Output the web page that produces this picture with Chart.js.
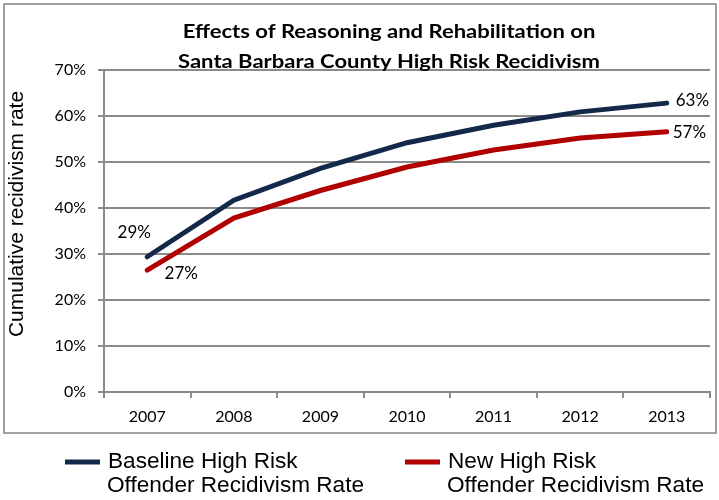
<!DOCTYPE html>
<html>
<head>
<meta charset="utf-8">
<script src="https://cdn.jsdelivr.net/npm/chart.js@4.4.0/dist/chart.umd.min.js"></script>
<style>html,body{margin:0;padding:0;background:#fff}</style>
</head>
<body>
<canvas id="grafico" width="719" height="500"></canvas>
<script>
// datos
var years = ["2007", "2008", "2009", "2010", "2011", "2012", "2013"];
var baseline = [29.4, 41.7, 48.6, 54.2, 58.0, 60.9, 62.8];
var newRisk = [26.5, 37.8, 43.8, 48.9, 52.6, 55.2, 56.6];
var seriesNames = [["Baseline High Risk", "Offender Recidivism Rate"], ["New High Risk", "Offender Recidivism Rate"]];
var yTicks = [0, 10, 20, 30, 40, 50, 60, 70];
var titleLines = ["Effects of Reasoning and Rehabilitation on", "Santa Barbara County High Risk Recidivism"];
var yTitle = "Cumulative recidivism rate";

var blue = "#14294a";
var red = "#b00000";
var grey = "#8a8a8a";

// texto comprimido/estirado para imitar fuentes que no hay
function fitText(c, txt, x, y, w, align) {
  var m = c.measureText(txt).width;
  var k = w / m;
  c.save();
  c.translate(x, y);
  c.scale(k, 1);
  c.textAlign = align;
  c.fillText(txt, 0, 0);
  c.restore();
  return k;
}

// fondo, borde, titulo, etiquetas y leyenda
var extras = {
  id: "extras",
  beforeDraw: function (chart) {
    var c = chart.ctx;
    c.save();
    c.fillStyle = "#fff";
    c.fillRect(0, 0, chart.width, chart.height);
    c.strokeStyle = "#a0a0a0";
    c.lineWidth = 2;
    c.strokeRect(4, 4, 712, 429);
    c.restore();
  },
  afterDraw: function (chart) {
    var c = chart.ctx;
    c.save();
    // titulo
    c.fillStyle = "#000";
    c.font = "bold 19px Lato";
    c.textBaseline = "alphabetic";
    var k = 422 / c.measureText(titleLines[1]).width;
    [38, 68].forEach(function (y, i) {
      c.save();
      c.translate(389, y);
      c.scale(k, 1);
      c.textAlign = "center";
      c.fillText(titleLines[i], 0, 0);
      c.restore();
    });

    // titulo eje y
    c.save();
    c.translate(17, 214);
    c.rotate(-Math.PI / 2);
    c.font = "21px 'Liberation Sans'";
    c.textAlign = "center";
    c.textBaseline = "middle";
    c.fillText(yTitle, 0, 0);
    c.restore();

    // etiquetas de los puntos inicial y final
    c.font = "17px Lato";
    c.textBaseline = "middle";
    var offs = [[[-13, -24, "center"], [9, -3, "left"]], [[34, 3, "center"], [6, 1, "left"]]];
    chart.data.datasets.forEach(function (ds, i) {
      var pts = chart.getDatasetMeta(i).data;
      [0, pts.length - 1].forEach(function (n, j) {
        var o = offs[i][j];
        c.textAlign = o[2];
        c.fillText(Math.round(ds.data[n]) + "%", pts[n].x + o[0], pts[n].y + o[1]);
      });
    });

    // leyenda
    var lx = [65, 405];
    c.font = "22px 'Liberation Sans'";
    c.textBaseline = "alphabetic";
    var kl = 257 / c.measureText(seriesNames[0][1]).width;
    chart.data.datasets.forEach(function (ds, i) {
      c.strokeStyle = ds.borderColor;
      c.lineWidth = 5;
      c.beginPath();
      c.moveTo(lx[i], 462);
      c.lineTo(lx[i] + 35, 462);
      c.stroke();
      c.fillStyle = "#000";
      [[seriesNames[i][0], lx[i] + 43, 468], [seriesNames[i][1], lx[i] + 42, 492]].forEach(function (t) {
        c.save();
        c.translate(t[1], t[2]);
        c.scale(kl, 1);
        c.textAlign = "left";
        c.fillText(t[0], 0, 0);
        c.restore();
      });
    });
    c.restore();
  }
};

new Chart(document.getElementById("grafico"), {
  type: "line",
  data: {
    labels: years,
    datasets: [{
      label: seriesNames[0].join(" "),
      data: baseline,
      borderColor: blue,
      borderWidth: 5,
      pointRadius: 0,
      borderCapStyle: "round",
      tension: 0
    }, {
      label: seriesNames[1].join(" "),
      data: newRisk,
      borderColor: red,
      borderWidth: 5,
      pointRadius: 0,
      borderCapStyle: "round",
      tension: 0
    }]
  },
  options: {
    responsive: false,
    animation: false,
    layout: { padding: { left: 0, top: 70, right: 9, bottom: 0 } },
    plugins: { legend: { display: false }, tooltip: { enabled: false } },
    scales: {
      x: {
        offset: true,
        afterFit: function (s) { s.height = 108; },
        grid: { offset: true, drawOnChartArea: false, color: grey, lineWidth: 2, tickLength: 6 },
        border: { color: grey, width: 2 },
        ticks: { color: "#000", font: { family: "Lato", size: 16 }, padding: 9 }
      },
      y: {
        min: 0,
        max: 70,
        afterFit: function (s) { s.width = 104; },
        afterBuildTicks: function (s) { s.ticks = yTicks.map(function (v) { return { value: v }; }); },
        grid: { color: grey, lineWidth: 2, tickLength: 6 },
        border: { color: grey, width: 2 },
        ticks: { color: "#000", font: { family: "Lato", size: 16 }, padding: 12, callback: function (v) { return v + "%"; } }
      }
    }
  },
  plugins: [extras]
});
</script>
</body>
</html>
